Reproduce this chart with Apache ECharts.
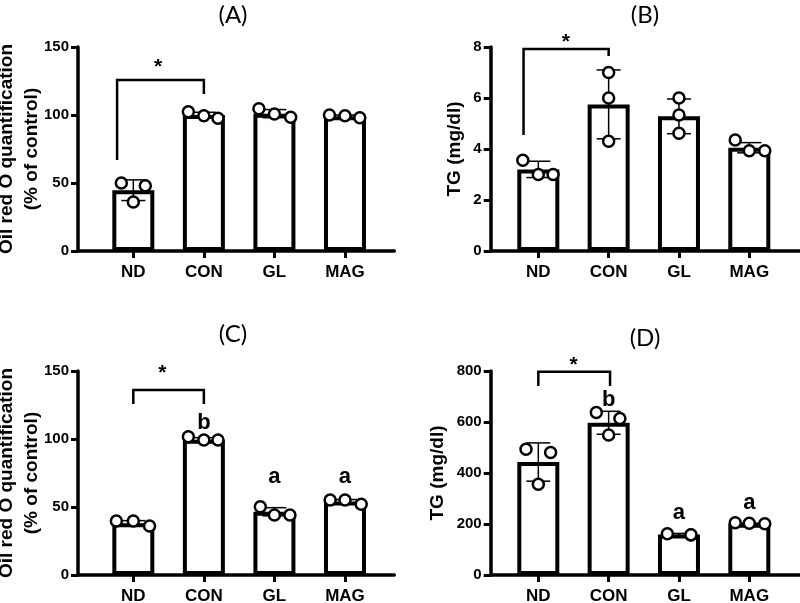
<!DOCTYPE html>
<html>
<head>
<meta charset="utf-8">
<title>Oil red O / TG</title>
<script src="https://cdn.jsdelivr.net/npm/echarts@6/dist/echarts.min.js"></script>
<style>
    html, body { margin: 0; padding: 0; background: #fff; }
    #main { width: 800px; height: 603px; }
</style>
</head>
<body>
<div id="main"></div>
<script>
    var groups = ['ND', 'CON', 'GL', 'MAG'];
    var tickPos = [0, 1, 2, 3];

    // (A) Oil red O, % of control
    var aMean = [44.7, 100, 101, 99];
    var aSD = [7.6, 2, 3, 1];
    var aDots = [[50, 36, 48], [102.4, 99.5, 97.6], [104.6, 100.7, 98.3], [100, 99.5, 98]];
    var aJitter = [[-0.17, 0, 0.17], [-0.22, 0, 0.2], [-0.22, 0, 0.23], [-0.22, 0, 0.21]];
    var aBracket = [-0.23, 1, 125.7, 66.9, 115.4];
    var aStar = [0.35, 139];
    var aLetters = [];

    // (B) TG mg/dl
    var bMean = [3.2, 5.75, 5.28, 4.05];
    var bSD = [0.32, 1.35, 0.68, 0.2];
    var bDots = [[3.56, 3.0, 3.0], [7.0, 6.0, 4.3], [6.0, 5.33, 4.62], [4.35, 3.93, 3.93]];
    var bJitter = [[-0.22, 0, 0.21], [0, 0, 0], [0, 0, 0], [-0.2, 0, 0.22]];
    var bBracket = [-0.21, 1, 7.92, 4.55, 7.65];
    var bStar = [0.39, 8.4];
    var bLetters = [];

    // (C) Oil red O, % of control
    var cMean = [38, 99.5, 46.5, 54];
    var cSD = [2, 1.5, 3, 1.5];
    var cDots = [[39.7, 39.7, 36], [101.7, 99.3, 99.3], [50.2, 44.1, 44.1], [55.1, 55.1, 52]];
    var cJitter = [[-0.24, 0, 0.23], [-0.22, 0, 0.2], [-0.2, 0, 0.22], [-0.21, 0, 0.23]];
    var cBracket = [0, 1, 136, 125.7, 125.7];
    var cStar = [0.41, 152];
    var cLetters = [[1, 111.8, 'b'], [2, 72.3, 'a'], [3, 72.3, 'a']];

    // (D) TG mg/dl
    var dMean = [443, 597, 159, 201];
    var dSD = [75, 45, 4, 2];
    var dDots = [[493, 356, 480], [637, 549, 614], [162, 157, 158], [205, 203, 201]];
    var dJitter = [[-0.175, 0, 0.175], [-0.175, 0, 0.16], [-0.165, 0.17, 0.17], [-0.2, 0, 0.22]];
    var dBracket = [0, 1.02, 797, 741, 741];
    var dStar = [0.5, 843];
    var dLetters = [[1, 686, 'b'], [2, 242, 'a'], [3, 281, 'a']];

    var boldFont = 'Liberation Sans';

    function renderErr(params, api) {
        var x = api.value(0), m = api.value(1), s = api.value(2);
        var top = api.coord([x, m + s]);
        var bot = api.coord([x, m - s]);
        var w = 12;
        var st = { stroke: '#000', lineWidth: 1.5 };
        return {
            type: 'group',
            children: [
                { type: 'line', shape: { x1: top[0], y1: top[1], x2: bot[0], y2: bot[1] }, style: st },
                { type: 'line', shape: { x1: top[0] - w, y1: top[1], x2: top[0] + w, y2: top[1] }, style: st },
                { type: 'line', shape: { x1: bot[0] - w, y1: bot[1], x2: bot[0] + w, y2: bot[1] }, style: st }
            ]
        };
    }

    function renderBracket(params, api) {
        var p1 = api.coord([api.value(0), api.value(3)]);
        var p2 = api.coord([api.value(0), api.value(2)]);
        var p3 = api.coord([api.value(1), api.value(2)]);
        var p4 = api.coord([api.value(1), api.value(4)]);
        var s = api.coord([api.value(5), api.value(6)]);
        return {
            type: 'group',
            children: [
                { type: 'polyline', shape: { points: [p1, p2, p3, p4] }, style: { stroke: '#000', lineWidth: 2.5, fill: null } },
                // asterisk glyph sits high in its em box, nudge it down
                { type: 'text', x: s[0], y: s[1] + 5, style: { text: '*', font: 'bold 21px "Liberation Sans"', align: 'center', verticalAlign: 'middle', fill: '#000' } }
            ]
        };
    }

    function panelSeries(i, mean, sd, dots, jitter, bracket, star, letters) {
        var barData = [], errData = [], dotData = [];
        for (var k = 0; k < groups.length; k++) {
            barData.push([k, mean[k]]);
            errData.push([k, mean[k], sd[k]]);
            for (var j = 0; j < dots[k].length; j++) {
                dotData.push([k + jitter[k][j], dots[k][j]]);
            }
        }
        var list = [
            {
                type: 'bar', xAxisIndex: i, yAxisIndex: i, data: barData, barWidth: 42,
                itemStyle: { color: '#fff', borderColor: '#000', borderWidth: 4 },
                silent: true, z: 2
            },
            {
                type: 'custom', xAxisIndex: i, yAxisIndex: i, data: errData, renderItem: renderErr,
                encode: { x: 0, y: 1 }, z: 3
            },
            {
                type: 'scatter', xAxisIndex: i, yAxisIndex: i, data: dotData, symbol: 'circle', symbolSize: 11,
                itemStyle: { color: '#fff', borderColor: '#000', borderWidth: 2.5, opacity: 1 }, z: 4
            },
            {
                type: 'custom', xAxisIndex: i, yAxisIndex: i, renderItem: renderBracket,
                data: [bracket.concat(star)], encode: { x: 0, y: 2 }, z: 5
            }
        ];
        if (letters.length) {
            list.push({
                type: 'custom', xAxisIndex: i, yAxisIndex: i,
                renderItem: function (params, api) {
                    var p = api.coord([api.value(0), api.value(1)]);
                    return {
                        type: 'text', x: p[0], y: p[1],
                        style: { text: letters[params.dataIndex][2], font: 'bold 22px "Liberation Sans"', align: 'center', verticalAlign: 'middle', fill: '#000' }
                    };
                },
                data: letters.map(function (l) { return [l[0], l[1]]; }),
                encode: { x: 0, y: 1 }, z: 5
            });
        }
        return list;
    }

    function xAxisOf(i, min, max) {
        return {
            gridIndex: i, type: 'value', min: min, max: max,
            axisLine: { show: true, onZero: false, lineStyle: { color: '#000', width: 3.5 } },
            axisTick: { show: true, customValues: tickPos, length: 7, lineStyle: { color: '#000', width: 3 } },
            axisLabel: {
                customValues: tickPos, color: '#000', fontWeight: 'bold', fontSize: 17, fontFamily: boldFont, margin: 13,
                formatter: function (v) { return groups[Math.round(v)]; }
            },
            splitLine: { show: false }
        };
    }

    function yAxisOf(i, max, interval, name, gap) {
        return {
            gridIndex: i, type: 'value', min: 0, max: max, interval: interval,
            axisLine: { show: true, onZero: false, lineStyle: { color: '#000', width: 3.5 } },
            axisTick: { show: true, length: 7, lineStyle: { color: '#000', width: 3 } },
            axisLabel: { color: '#000', fontWeight: 'bold', fontSize: 15, fontFamily: boldFont, margin: 9 },
            splitLine: { show: false },
            name: name, nameLocation: 'middle', nameGap: gap, nameMoveOverlap: false,
            nameTextStyle: { color: '#000', fontWeight: 'bold', fontSize: 19, fontFamily: boldFont, lineHeight: 25 }
        };
    }

    var ornName = 'Oil red O quantification\n(% of control)';

    var option = {
        animation: false,
        backgroundColor: '#fff',
        grid: [
            { left: 78, top: 47, width: 316.3, height: 204, outerBoundsMode: 'none' },
            { left: 490.7, top: 47, width: 309.3, height: 204, outerBoundsMode: 'none' },
            { left: 78, top: 371, width: 316.3, height: 204, outerBoundsMode: 'none' },
            { left: 490.7, top: 371, width: 309.3, height: 204, outerBoundsMode: 'none' }
        ],
        xAxis: [
            xAxisOf(0, -0.784, 3.699),
            xAxisOf(1, -0.677, 3.721),
            xAxisOf(2, -0.784, 3.699),
            xAxisOf(3, -0.677, 3.721)
        ],
        yAxis: [
            yAxisOf(0, 150, 50, ornName, 34),
            yAxisOf(1, 8, 2, 'TG (mg/dl)', 23),
            yAxisOf(2, 150, 50, ornName, 34),
            yAxisOf(3, 800, 200, 'TG (mg/dl)', 40)
        ],
        graphic: [
            { type: 'text', x: 233, y: 15, style: { text: '(A)', font: '24px Lato', align: 'center', verticalAlign: 'middle', fill: '#000' } },
            { type: 'text', x: 645, y: 15, style: { text: '(B)', font: '24px Lato', align: 'center', verticalAlign: 'middle', fill: '#000' } },
            { type: 'text', x: 233, y: 334, style: { text: '(C)', font: '24px Lato', align: 'center', verticalAlign: 'middle', fill: '#000' } },
            { type: 'text', x: 645, y: 338, style: { text: '(D)', font: '24px Lato', align: 'center', verticalAlign: 'middle', fill: '#000' } }
        ],
        series: [].concat(
            panelSeries(0, aMean, aSD, aDots, aJitter, aBracket, aStar, aLetters),
            panelSeries(1, bMean, bSD, bDots, bJitter, bBracket, bStar, bLetters),
            panelSeries(2, cMean, cSD, cDots, cJitter, cBracket, cStar, cLetters),
            panelSeries(3, dMean, dSD, dDots, dJitter, dBracket, dStar, dLetters)
        )
    };

    var myChart = echarts.init(document.getElementById('main'));
    myChart.setOption(option);
</script>
</body>
</html>
